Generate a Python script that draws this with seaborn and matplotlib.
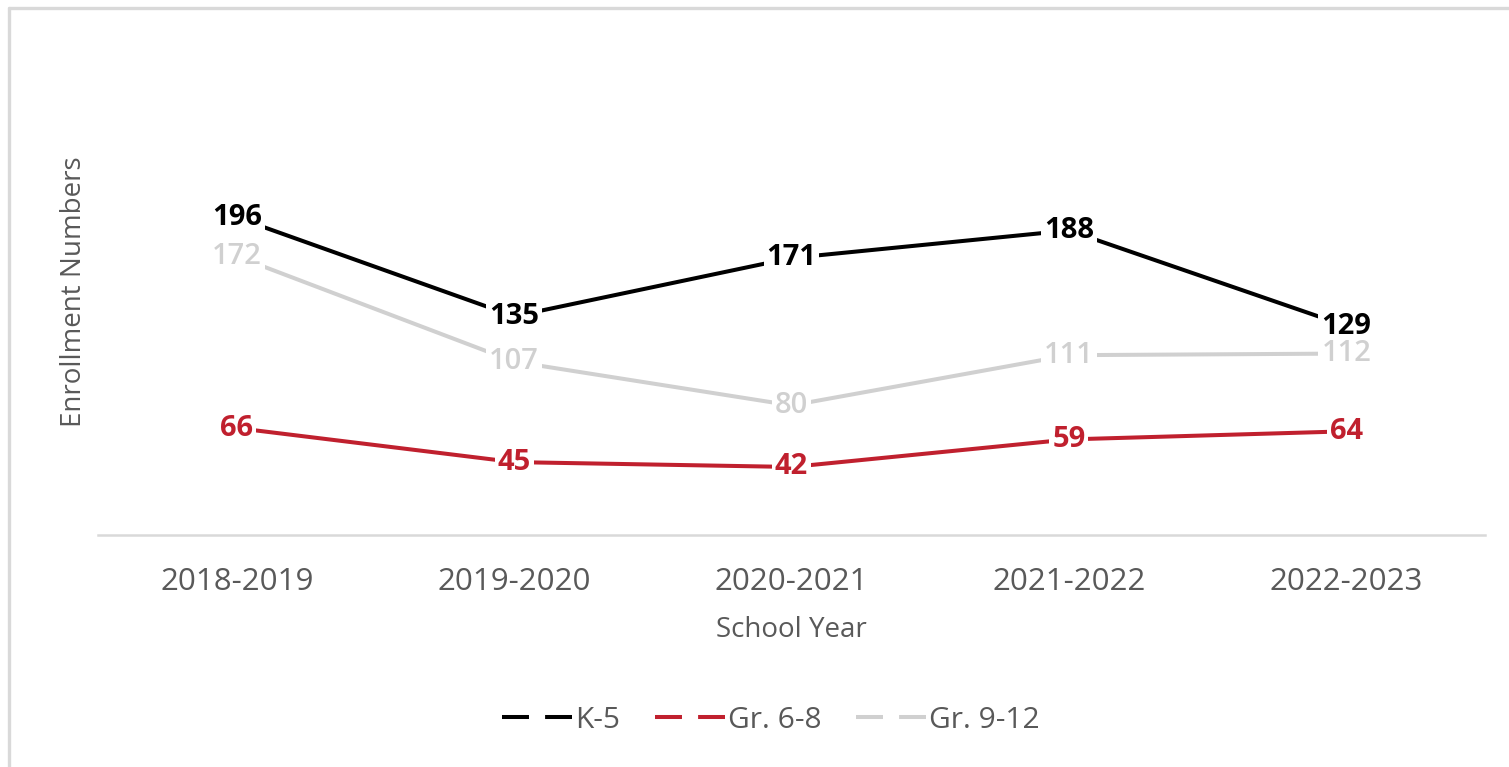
import matplotlib
matplotlib.use("Agg")
import matplotlib.pyplot as plt
from matplotlib.lines import Line2D
import seaborn as sns
import pandas as pd

years = ["2018-2019", "2019-2020", "2020-2021", "2021-2022", "2022-2023"]
k5 = [196, 135, 171, 188, 129]
gr68 = [66, 45, 42, 59, 64]
gr912 = [172, 107, 80, 111, 112]
series_names = ["K-5", "Gr. 6-8", "Gr. 9-12"]
colors = {"K-5": "#000000", "Gr. 6-8": "#C0202E", "Gr. 9-12": "#D0D0D0"}

df = pd.DataFrame({
    "School Year": years * 3,
    "Enrollment": k5 + gr68 + gr912,
    "Series": [s for s in series_names for _ in years],
})

sns.set_theme(style="white")
plt.rcParams["font.family"] = ["Open Sans", "DejaVu Sans"]

fig = plt.figure(figsize=(15.09, 7.67), dpi=100)
ax = fig.add_axes([98 / 1509, 232 / 767, 1387 / 1509, 486 / 767])

# draw gray first so black sits on top
order = ["Gr. 9-12", "Gr. 6-8", "K-5"]
for name in order:
    sub = df[df["Series"] == name]
    sns.lineplot(data=sub, x="School Year", y="Enrollment", color=colors[name],
                 linewidth=2.9, ax=ax, legend=False, sort=False)

# data labels centred on the points with white background
label_z = {"K-5": 5, "Gr. 6-8": 5, "Gr. 9-12": 6}
for name in order:
    sub = df[df["Series"] == name].reset_index(drop=True)
    bold = name != "Gr. 9-12"
    for i, v in enumerate(sub["Enrollment"]):
        ax.text(i, v, str(v), ha="center", va="center", fontsize=21,
                fontweight="bold" if bold else "semibold", color=colors[name],
                bbox=dict(boxstyle="square,pad=0.1", facecolor="white", edgecolor="none"),
                zorder=label_z[name])

ax.set_xlim(-0.5, len(years) - 0.5)
ax.set_ylim(0, 300)
ax.set_yticks([])
for side in ["top", "left", "right"]:
    ax.spines[side].set_visible(False)
ax.spines["bottom"].set_color("#D9D9D9")
ax.spines["bottom"].set_linewidth(1.8)

ax.tick_params(axis="x", length=0, pad=23, labelsize=22.5, labelcolor="#595959")
ax.set_xlabel("School Year", fontsize=20, color="#595959", labelpad=14)
ax.set_ylabel("Enrollment Numbers", fontsize=20, color="#595959")
ax.yaxis.set_label_coords(-0.0072, 0.5)

# Excel-style legend keys: line broken in the middle
handles = [Line2D([0], [0], color=colors[n], linewidth=2.9, dashes=(6.7, 4.0)) for n in series_names]
fig.legend(handles, series_names, loc="center", bbox_to_anchor=(0.511, 0.061),
           bbox_transform=fig.transFigure, ncol=3, frameon=False, fontsize=21.5,
           handlelength=2.34, handletextpad=0.1, columnspacing=1.17, labelcolor="#595959")

# outer chart border (left and top visible)
fig.add_artist(Line2D([8.5 / 1509, 8.5 / 1509], [0, 759.5 / 767], color="#D9D9D9",
                      linewidth=2.4, transform=fig.transFigure))
fig.add_artist(Line2D([8.5 / 1509, 1], [759.5 / 767, 759.5 / 767], color="#D9D9D9",
                      linewidth=2.4, transform=fig.transFigure))

fig.savefig("out.png", dpi=100)
